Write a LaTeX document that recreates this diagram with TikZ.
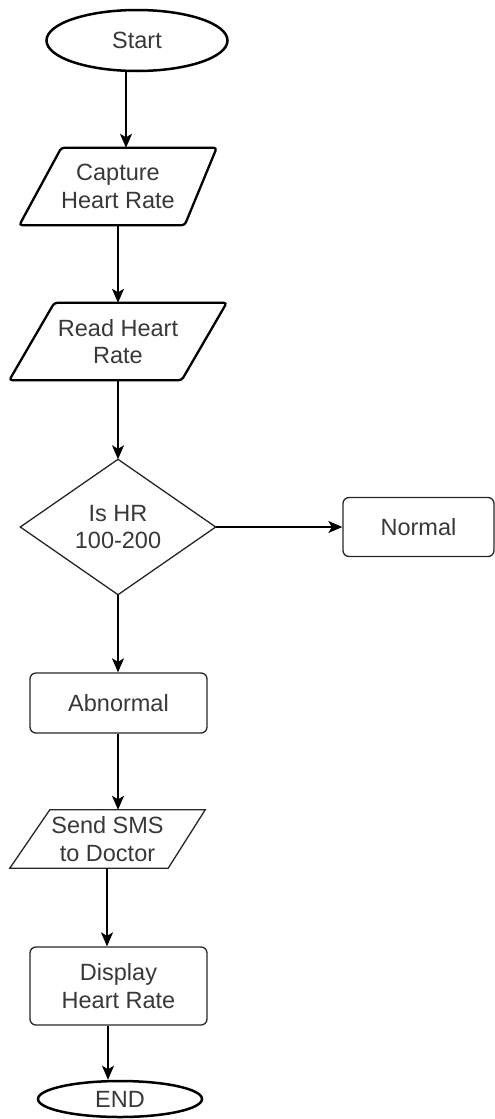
\documentclass[tikz,border=0pt]{standalone}
\usepackage{fontspec}
\setmainfont{Liberation Sans}
\usetikzlibrary{arrows.meta,shapes.geometric}
\begin{document}
\begin{tikzpicture}[x=1pt,y=1pt,
  every node/.style={font=\fontsize{23.5}{27.5}\selectfont, text=black!78, align=center, inner sep=0pt},
  thickline/.style={draw=black, line width=2.3pt, rounded corners=3pt},
  thinline/.style={draw=black!85, line width=1.3pt},
  arr/.style={draw=black, line width=1.5pt, -{Stealth[length=14pt,width=12pt,inset=3.5pt]}},
  rbox/.style={draw=black!85, line width=1.3pt, rounded corners=6pt, rectangle},
  term/.style={draw=black, line width=2.5pt, ellipse}
]
\useasboundingbox (0,0) rectangle (495,-1119);

% Start
\node[term, minimum width=181, minimum height=61] (start) at (137,-40.5) {Start};

% Capture Heart Rate (parallelogram)
\node[minimum width=197, minimum height=77] (cap) at (118,-186.5) {Capture\\Heart Rate};
\draw[thickline] (cap.south west) -- ([xshift=-32]cap.south east) -- (cap.north east) -- ([xshift=42]cap.north west) -- cycle;

% Read Heart Rate
\node[minimum width=217, minimum height=77] (read) at (118,-341.5) {Read Heart\\Rate};
\draw[thickline] (read.south west) -- ([xshift=-45]read.south east) -- (read.north east) -- ([xshift=45]read.north west) -- cycle;

% Decision
\node[minimum width=195, minimum height=135] (dec) at (118,-527) {Is HR\\100-200};
\draw[thinline] (dec.north) -- (dec.east) -- (dec.south) -- (dec.west) -- cycle;

% Normal
\node[rbox, minimum width=151, minimum height=59] (normal) at (418.5,-527) {Normal};

% Abnormal
\node[rbox, minimum width=177, minimum height=60] (abn) at (118.5,-703) {Abnormal};

% Send SMS
\node[minimum width=195, minimum height=58] (sms) at (107.5,-839) {Send SMS\\to Doctor};
\draw[thinline] (sms.south west) -- ([xshift=-37]sms.south east) -- (sms.north east) -- ([xshift=40]sms.north west) -- cycle;

% Display
\node[rbox, minimum width=177, minimum height=78] (disp) at (118.5,-986) {Display\\Heart Rate};

% END
\node[term, minimum width=164, minimum height=36] (end) at (120,-1099) {END};

% connectors
\coordinate (c0) at (118,0);
\coordinate (c1) at (126,0);
\coordinate (c2) at (107,0);
\coordinate (c3) at (108,0);
\draw[arr] (start.south -| c1) -- (cap.north -| c1);
\draw[arr] (cap.south -| c0) -- (read.north -| c0);
\draw[arr] (read.south -| c0) -- (dec.north);
\draw[arr] (dec.east) -- (normal.west);
\draw[arr] (dec.south) -- (abn.north -| c0);
\draw[arr] (abn.south -| c0) -- (sms.north -| c0);
\draw[arr] (sms.south -| c2) -- (disp.north -| c2);
\draw[arr] (disp.south -| c3) -- (end.north -| c3);
\end{tikzpicture}
\end{document}
